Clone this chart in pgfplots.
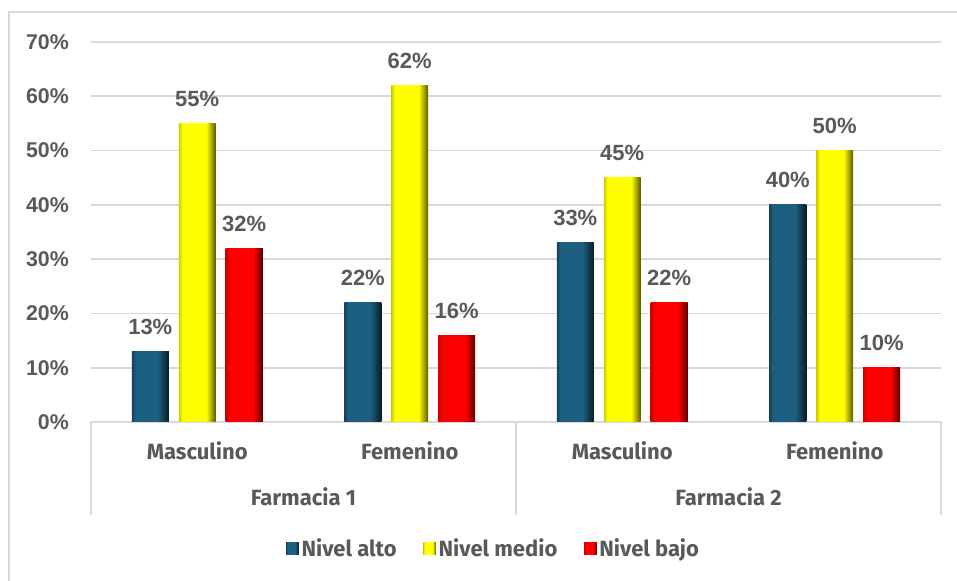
\documentclass[border=0pt]{standalone}
\usepackage{pgfplots}
\pgfplotsset{compat=1.18}
\usepackage{fontspec}
\setmainfont{Liberation Sans}
\newfontfamily\catfont{Fira Sans}
\definecolor{txtgray}{HTML}{595959}
\definecolor{gridgray}{HTML}{D9D9D9}
\definecolor{altoc}{HTML}{1D5F80}
\definecolor{medioc}{HTML}{FFFF00}
\definecolor{bajoc}{HTML}{FF0000}

% bevel-like horizontal shadings (path spans 25bp..75bp)
\pgfdeclarehorizontalshading{bevalto}{100bp}{color(0bp)=(altoc!70!black); color(25bp)=(altoc!70!black); color(30bp)=(altoc); color(60bp)=(altoc); color(75bp)=(altoc!30!black); color(100bp)=(altoc!30!black)}
\pgfdeclarehorizontalshading{bevmedio}{100bp}{color(0bp)=(medioc!80!black); color(25bp)=(medioc!80!black); color(30bp)=(medioc); color(62bp)=(medioc); color(75bp)=(medioc!35!black); color(100bp)=(medioc!35!black)}
\pgfdeclarehorizontalshading{bevbajo}{100bp}{color(0bp)=(bajoc!80!black); color(25bp)=(bajoc!80!black); color(30bp)=(bajoc); color(62bp)=(bajoc); color(75bp)=(bajoc!35!black); color(100bp)=(bajoc!35!black)}

\pgfplotsset{
  alto/.style={draw=none, fill=altoc, shading=bevalto},
  medio/.style={draw=none, fill=medioc, shading=bevmedio},
  bajo/.style={draw=none, fill=bajoc, shading=bevbajo},
}

\begin{document}
\begin{tikzpicture}
\begin{axis}[
  width=637.5pt, height=285pt, scale only axis,
  ybar, bar shift=0pt,
  ymin=0, ymax=70, xmin=-0.5, xmax=3.5,
  ytick={0,10,...,70},
  yticklabel={\pgfmathprintnumber{\tick}\%},
  yticklabel style={anchor=east, inner sep=0pt, xshift=-16.5pt, font=\fontsize{16}{18}\selectfont\bfseries, text=txtgray},
  /pgf/number format/assume math mode=true,
  xtick={0,1,2,3},
  xticklabels={Masculino,Femenino,Masculino,Femenino},
  xticklabel style={anchor=base, inner sep=0pt, yshift=-28.5pt, font=\fontsize{16.5}{18}\catfont\bfseries, text=txtgray},
  major tick length=0pt,
  ymajorgrids=true,
  grid style={gridgray, line width=1.2pt},
  axis lines*=left,
  y axis line style={draw=none},
  x axis line style={gridgray, line width=1.2pt},
  axis line style={-},
  bar width=0.174,
  clip=false,
  nodes near coords={\pgfmathprintnumber{\pgfplotspointmeta}\%},
  nodes near coords style={anchor=base, inner sep=0pt, yshift=12.75pt, font=\fontsize{16.5}{18}\selectfont\bfseries, text=txtgray},
  legend style={draw=none, at={(0.474,-0.334)}, anchor=center, legend columns=-1,
    font=\fontsize{16.5}{18}\catfont\bfseries, text=txtgray,
    /tikz/every even column/.append style={column sep=18pt}},
  legend image code/.code={\path[#1] (0pt,-4.5pt) rectangle (9.5pt,5pt);},
]
% Nivel alto
\addplot[alto] coordinates {(-0.221,13)};
\addlegendentry{Nivel alto}
\addplot[alto, forget plot] coordinates {(0.779,22)};
\addplot[alto, forget plot] coordinates {(1.779,33)};
\addplot[alto, forget plot] coordinates {(2.779,40)};
% Nivel medio
\addplot[medio] coordinates {(0,55)};
\addlegendentry{Nivel medio}
\addplot[medio, forget plot] coordinates {(1,62)};
\addplot[medio, forget plot] coordinates {(2,45)};
\addplot[medio, forget plot] coordinates {(3,50)};
% Nivel bajo
\addplot[bajo] coordinates {(0.221,32)};
\addlegendentry{Nivel bajo}
\addplot[bajo, forget plot] coordinates {(1.221,16)};
\addplot[bajo, forget plot] coordinates {(2.221,22)};
\addplot[bajo, forget plot] coordinates {(3.221,10)};

\coordinate (O) at (axis cs:-0.5,0);
\pgfplotsinvokeforeach{-0.5,1.5,3.5}{
  \draw[gridgray, line width=1.2pt] (axis cs:#1,0) -- ++(0pt,-69.75pt);
}
\node[anchor=base, inner sep=0pt, font=\fontsize{16.5}{18}\catfont\bfseries, text=txtgray]
  at ([yshift=-62.5pt]axis cs:0.5,0) {Farmacia 1};
\node[anchor=base, inner sep=0pt, font=\fontsize{16.5}{18}\catfont\bfseries, text=txtgray]
  at ([yshift=-62.5pt]axis cs:2.5,0) {Farmacia 2};
\end{axis}
\draw[gridgray, line width=1.5pt] ([shift={(-61.5pt,-130pt)}]O) -- ([shift={(-61.5pt,307.5pt)}]O) -- ([shift={(660pt,307.5pt)}]O);
\pgfresetboundingbox
\path ([shift={(-68.25pt,-119.25pt)}]O) rectangle ([shift={(649.5pt,316.5pt)}]O);
\end{tikzpicture}
\end{document}
